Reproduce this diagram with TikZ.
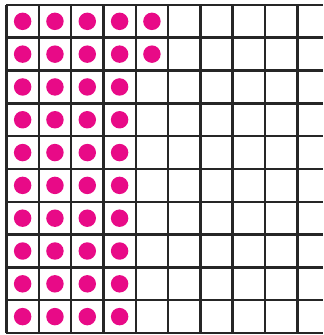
\documentclass[tikz,border=0pt]{standalone}
\usepackage{tikz}
\usetikzlibrary{positioning}
\definecolor{dotpink}{RGB}{232,10,135}

\begin{document}
\begin{tikzpicture}[x=1cm, y=1.015cm]
                \tikzset{gridline/.style={line width=2.2pt, black!85},
                         dot/.style={circle, fill=dotpink, inner sep=0pt, minimum size=0.54cm}}
                \useasboundingbox (-0.2,0.15) rectangle (9.8,-10.06);

                % Grid
                \foreach \r in {0,...,10}
                    \draw[gridline] (0,-\r) -- (9.8,-\r);
                \foreach \c in {0,...,9}
                    \draw[gridline] (\c,0) -- (\c,-10);

                % Dots, first two rows
                \foreach \r in {1,2}
                    \foreach \c in {1,...,5}
                        \node[dot] (d\r\c) at (\c-0.5,-\r+0.5) {};

                % Dots, remaining rows
                \foreach \r in {3,...,10}
                    \foreach \c in {1,...,4}
                        \node[dot] (d\r\c) at (\c-0.5,-\r+0.5) {};
            \end{tikzpicture}
\end{document}
